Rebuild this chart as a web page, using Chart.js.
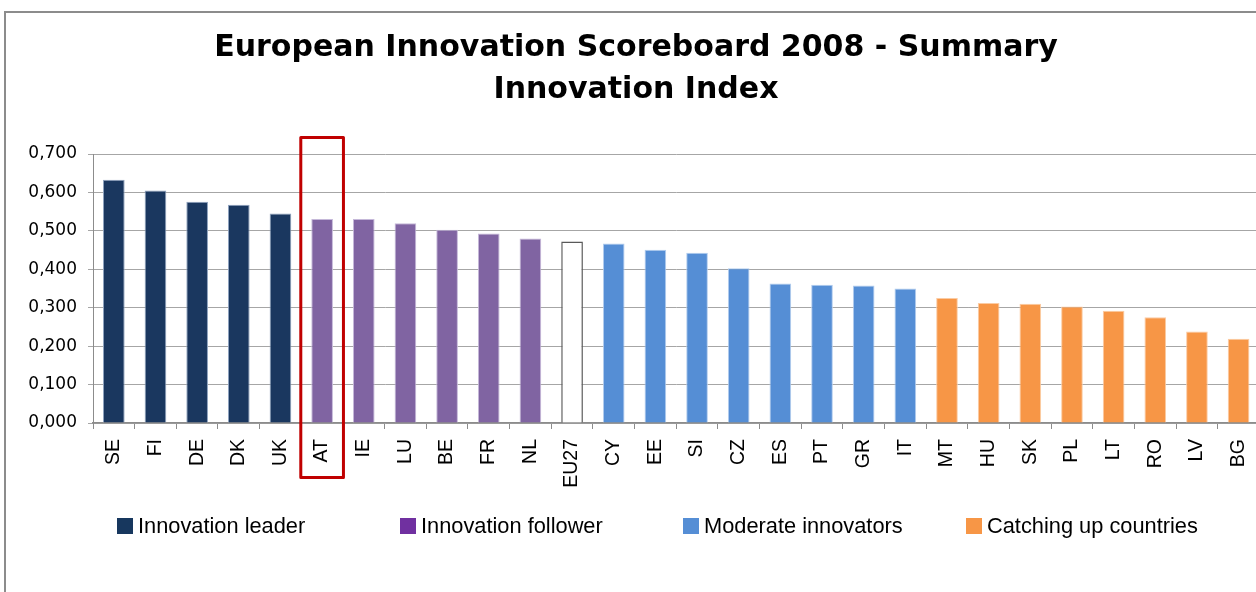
<!DOCTYPE html>
<html>
<head>
<meta charset="utf-8">
<script src="https://cdn.jsdelivr.net/npm/chart.js@4/dist/chart.umd.min.js"></script>
<style>
  html, body { margin: 0; padding: 0; background: #fff; overflow: hidden; width: 1256px; height: 592px; }
  #frame { position: absolute; left: 4px; top: 11px; width: 1300px; height: 700px; border-top: 2px solid #8c8c8c; border-left: 2px solid #8c8c8c; pointer-events: none; }
  #wrap { position: absolute; left: 0; top: 0; width: 1272px; height: 592px; }
  #legend { position: absolute; left: 117px; top: 513px; display: flex; font-family: "Liberation Sans", Arial, sans-serif; font-size: 21.8px; color: #000; }
  .li { width: 283px; display: flex; align-items: center; }
  .sw { width: 16px; height: 16px; margin-right: 5px; flex: none; }
</style>
</head>
<body>
<div id="wrap"><canvas id="c"></canvas></div>
<div id="frame"></div>
<div id="legend"></div>
<script>
// ---- data ----
const categories = ['SE','FI','DE','DK','UK','AT','IE','LU','BE','FR','NL','EU27','CY','EE','SI','CZ','ES','PT','GR','IT','MT','HU','SK','PL','LT','RO','LV','BG'];
const values = [0.633,0.605,0.576,0.568,0.545,0.531,0.531,0.520,0.503,0.493,0.480,0.472,0.467,0.451,0.443,0.403,0.363,0.360,0.358,0.350,0.325,0.312,0.310,0.303,0.292,0.275,0.238,0.219];
const groups = ['leader','leader','leader','leader','leader','follower','follower','follower','follower','follower','follower','eu','moderate','moderate','moderate','moderate','moderate','moderate','moderate','moderate','catching','catching','catching','catching','catching','catching','catching','catching'];
const groupKeys = ['leader','follower','moderate','catching','eu'];
const groupLabels = {leader:'Innovation leader', follower:'Innovation follower', moderate:'Moderate innovators', catching:'Catching up countries', eu:'EU27'};
const highlighted = 'AT';
const yTicks = [0,0.1,0.2,0.3,0.4,0.5,0.6,0.7];

// ---- styles ----
const barFill = {leader:'#1a375f', follower:'#8064a2', moderate:'#558ed5', catching:'#f79646', eu:'#ffffff'};
const barEdge = {leader:'#8fa3bf', follower:'#c5b8d9', moderate:'#b3cdee', catching:'#fbcba3', eu:'#595959'};
const legendFill = {leader:'#17375e', follower:'#7030a0', moderate:'#558ed5', catching:'#f79646'};
const FONT = '"Liberation Sans", Arial, sans-serif';
const WIDE = '"DejaVu Sans", "Liberation Sans", sans-serif';

const datasets = groupKeys.map(g => ({
  label: groupLabels[g],
  data: values.map((v, i) => groups[i] === g ? v : null),
  backgroundColor: barFill[g],
  borderColor: barEdge[g],
  borderWidth: g === 'eu' ? 1.5 : 1,
  grouped: false,
  categoryPercentage: 1,
  barPercentage: 0.52
}));

const highlightBox = {
  id: 'highlightBox',
  afterDatasetsDraw(chart) {
    const x = chart.scales.x, a = chart.chartArea, ctx = chart.ctx;
    const i = categories.indexOf(highlighted);
    const cx = x.getPixelForValue(i);
    const half = (x.width / categories.length) / 2 + 0.5;
    ctx.save();
    ctx.strokeStyle = '#c00000';
    ctx.lineWidth = 3;
    ctx.lineJoin = 'round';
    ctx.strokeRect(cx - half, a.top - 16.5, half * 2, (a.bottom + 54.5) - (a.top - 16.5));
    ctx.restore();
  }
};

new Chart(document.getElementById('c'), {
  type: 'bar',
  data: { labels: categories, datasets },
  plugins: [highlightBox],
  options: {
    responsive: true,
    maintainAspectRatio: false,
    animation: false,
    layout: { padding: { left: 0, right: 0, top: 0, bottom: 0 } },
    plugins: {
      legend: { display: false },
      tooltip: { enabled: false },
      title: {
        display: true,
        text: ['European Innovation Scoreboard 2008 - Summary', 'Innovation Index'],
        color: '#000',
        font: { family: WIDE, size: 30, weight: 'bold', lineHeight: 1.4 },
        padding: { top: 27.5, bottom: 42.5 }
      }
    },
    scales: {
      x: {
        offset: true,
        grid: { drawOnChartArea: false, drawTicks: true, tickLength: 6, color: '#8c8c8c', offset: true },
        border: { color: '#8c8c8c', width: 1.5 },
        ticks: { color: '#000', font: { family: FONT, size: 19.5 }, minRotation: 90, maxRotation: 90, autoSkip: false, padding: 10 },
        afterFit(s) { s.height = 169; }
      },
      y: {
        min: 0, max: 0.7,
        afterBuildTicks(s) { s.ticks = yTicks.map(v => ({ value: v })); },
        grid: { color: '#a6a6a6', lineWidth: 1, tickLength: 5, drawTicks: true },
        border: { color: '#8c8c8c', width: 1 },
        ticks: { color: '#000', font: { family: WIDE, size: 17 }, padding: 11,
                 callback: v => v.toFixed(3).replace('.', ',') },
        afterFit(s) { s.width = 93; }
      }
    }
  }
});

// HTML legend built from groups
const lg = document.getElementById('legend');
['leader','follower','moderate','catching'].forEach(g => {
  const d = document.createElement('div'); d.className = 'li';
  const s = document.createElement('span'); s.className = 'sw'; s.style.background = legendFill[g];
  const t = document.createElement('span'); t.textContent = groupLabels[g];
  d.appendChild(s); d.appendChild(t); lg.appendChild(d);
});
</script>
</body>
</html>
